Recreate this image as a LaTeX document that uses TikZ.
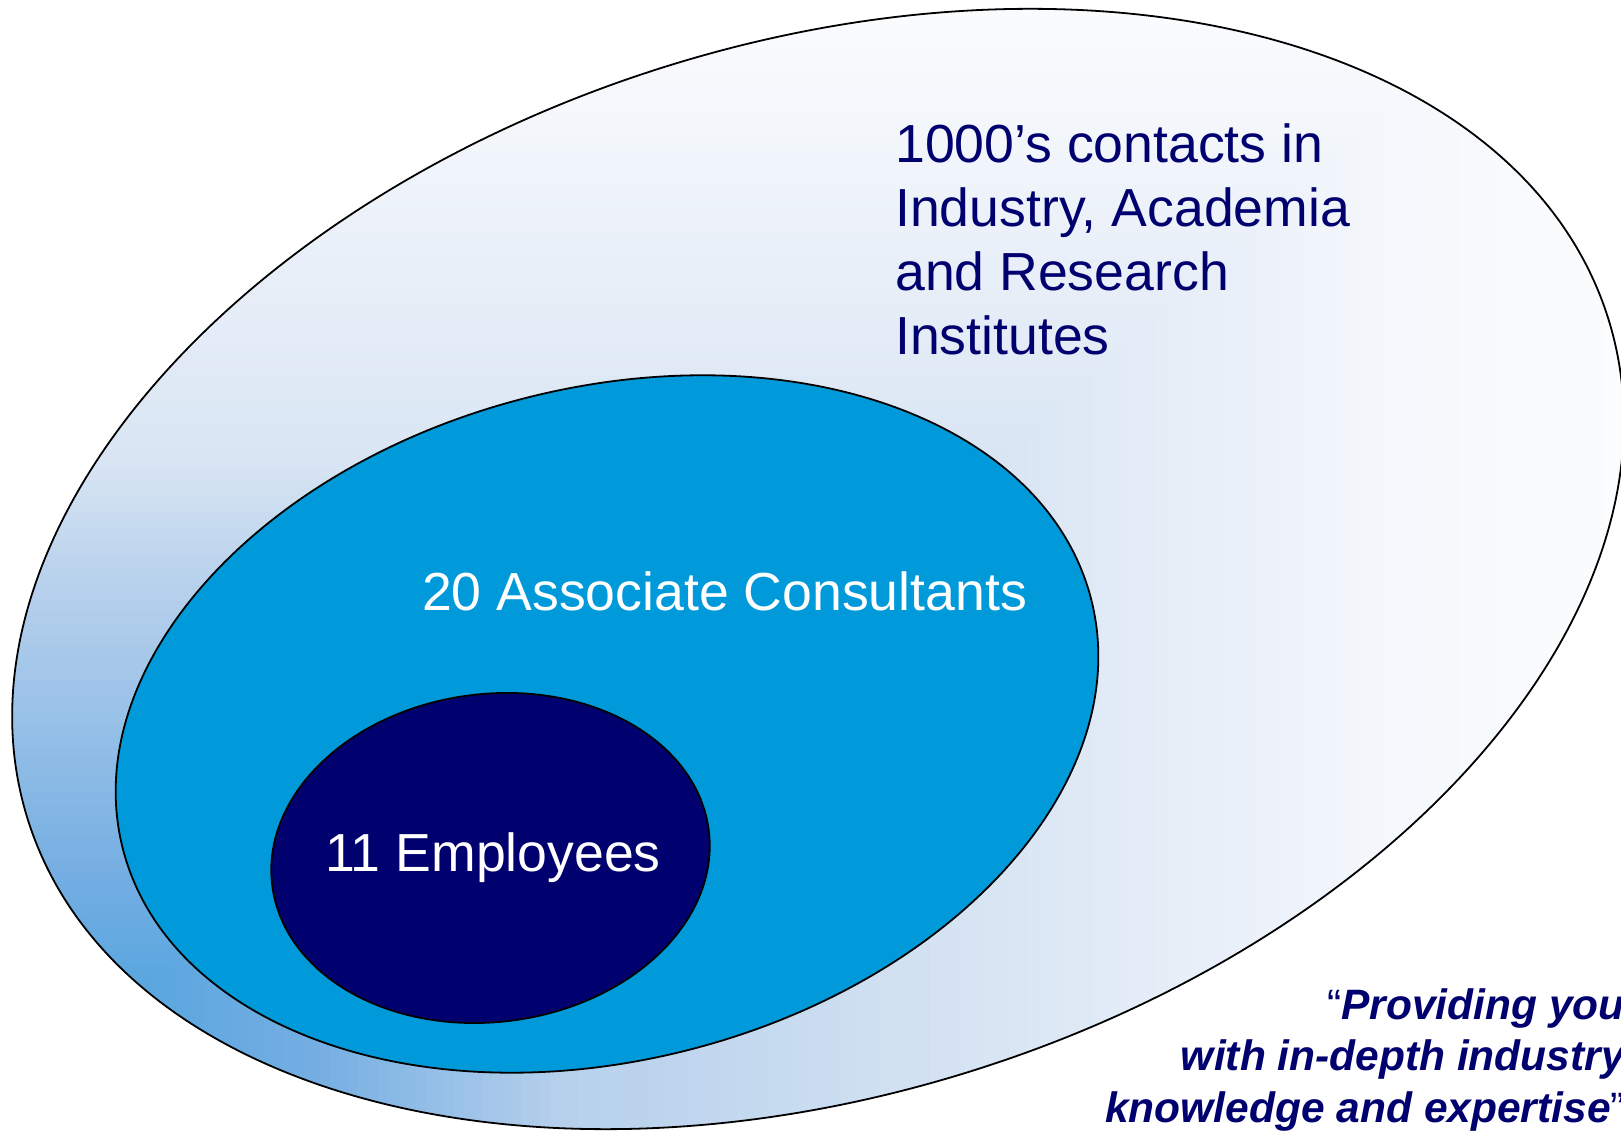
\documentclass[tikz,border=0pt]{standalone}
\usepackage{fontspec}
\setmainfont{Liberation Sans}
\definecolor{navy}{RGB}{0,0,110}
\definecolor{midblue}{HTML}{009ADA}
\definecolor{darkfill}{RGB}{0,0,110}
\definecolor{g0}{HTML}{4A9DDE}
\definecolor{g1}{HTML}{52A4DF}
\definecolor{g2}{HTML}{74AEE2}
\definecolor{g3}{HTML}{B5CFEC}
\definecolor{g4}{HTML}{D8E5F3}
\definecolor{g5}{HTML}{EAF0F9}
\definecolor{g6}{HTML}{F5F8FC}
\definecolor{g7}{HTML}{FCFDFE}
% corner gradient segment: xa ya colA xb yb colB (y in image pixels, from top)
\newcommand\gradseg[6]{%
  \foreach \gradK in {25,24,...,1}{%
    \pgfmathsetmacro\gradT{\gradK/25}%
    \pgfmathsetmacro\gradX{#1+(#4-#1)*\gradT}%
    \pgfmathsetmacro\gradY{1137-(#2+(#5-#2)*\gradT)}%
    \pgfmathsetmacro\gradP{100*\gradT}%
    \fill[#6!\gradP!#3] (-20,-20) rectangle (\gradX,\gradY);
  }}
\begin{document}
\begin{tikzpicture}[x=1pt,y=1pt,
  outline/.style={draw=black,line width=1.8pt},
  bigtext/.style={font=\fontsize{53.6}{64}\selectfont,inner sep=0pt},
  quotetext/.style={font=\fontsize{42.5}{51}\selectfont\bfseries\itshape,text=navy,inner sep=0pt,anchor=base east}]
\useasboundingbox (0,0) rectangle (1621,1137);
\fill[white] (0,0) rectangle (1621,1137);
% outer ellipse with corner gradient
\begin{scope}
  \clip[rotate around={17.7:(818,568)}] (818,568) ellipse [x radius=829, y radius=525];
  \gradseg{1400}{100}{g6}{1700}{-50}{g7}
  \gradseg{1230}{250}{g5}{1400}{100}{g6}
  \gradseg{1000}{460}{g4}{1230}{250}{g5}
  \gradseg{560}{590}{g3}{1000}{460}{g4}
  \gradseg{320}{870}{g2}{560}{590}{g3}
  \gradseg{97}{1013}{g1}{320}{870}{g2}
  \gradseg{0}{1137}{g0}{97}{1013}{g1}
\end{scope}
\draw[outline,rotate around={17.7:(818,568)}] (818,568) ellipse [x radius=829, y radius=525];
% associate consultants ellipse
\draw[outline,fill=midblue,rotate around={14.55:(607,413)}] (607,413) ellipse [x radius=500, y radius=336];
% employees ellipse
\draw[outline,fill=darkfill,rotate around={7.2:(490.5,279)}] (490.5,279) ellipse [x radius=220, y radius=164];
% texts
\node[bigtext,text=navy,anchor=base west] (c1) at (895,974) {1000’s contacts in};
\node[bigtext,text=navy,anchor=base west] (c2) at (895,910) {Industry, Academia};
\node[bigtext,text=navy,anchor=base west] (c3) at (895,846) {and Research};
\node[bigtext,text=navy,anchor=base west] (c4) at (895,782) {Institutes};
\node[bigtext,text=white,anchor=base] (assoc) at (724.5,526) {20 Associate Consultants};
\node[bigtext,text=white,anchor=base] (empl) at (493,265) {11 Employees};
\node[quotetext] (q1) at (1625,117) {{\normalfont\fontsize{42.5}{51}\selectfont “}Providing you};
\node[quotetext] (q2) at (1625,66) {with in-depth industry};
\node[quotetext] (q3) at (1625,15) {knowledge and expertise{\normalfont\fontsize{42.5}{51}\selectfont ”}};
\end{tikzpicture}
\end{document}
